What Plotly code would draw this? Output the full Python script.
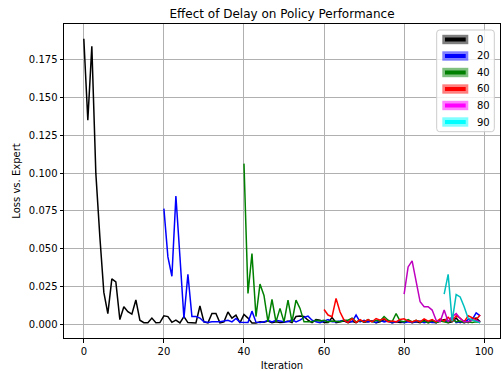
import plotly.graph_objects as go

delays = [0, 20, 40, 60, 80, 90]
line_colors = ["#000000", "#0000ff", "#008000", "#ff0000", "#bf00bf", "#00bfbf"]
legend_colors = ["#000000", "#0000ff", "#008000", "#ff0000", "#ff00ff", "#00ffff"]
halo_colors = ["rgba(0,0,0,0.5)", "rgba(0,0,255,0.5)", "rgba(0,128,0,0.5)",
               "rgba(255,0,0,0.5)", "rgba(255,0,255,0.5)", "rgba(0,255,255,0.5)"]

loss_delay_0 = [
    0.189, 0.135, 0.184, 0.100, 0.058, 0.021, 0.007, 0.030, 0.028, 0.003,
    0.0115, 0.0082, 0.0066, 0.016, 0.0026, 0.0009, 0.0009, 0.004, 0.0009, 0.001,
    0.0055, 0.005, 0.0012, 0.0026, 0.0008, 0.005, 0.001, 0.0008, 0.0008, 0.012,
    0.0015, 0.0008, 0.007, 0.007, 0.0008, 0.0015, 0.008, 0.004, 0.006, 0.0008,
    0.0064, 0.004, 0.0008, 0.0008, 0.0015, 0.0012, 0.002, 0.001, 0.0015, 0.001,
    0.0012, 0.002, 0.001, 0.005, 0.0053, 0.005, 0.0026, 0.001, 0.003, 0.0026,
    0.001, 0.001, 0.0044, 0.001, 0.0015, 0.002, 0.001, 0.0018, 0.001, 0.0025,
    0.0012, 0.0015, 0.002, 0.001, 0.0015, 0.003, 0.002, 0.001, 0.0015, 0.001,
    0.0012, 0.002, 0.001, 0.0015, 0.001, 0.0025, 0.001, 0.0015, 0.001, 0.002,
    0.003, 0.001, 0.0015, 0.004, 0.001, 0.002, 0.001, 0.0035, 0.004, 0.0015,
]
loss_delay_20 = [
    0.0765, 0.0445, 0.0317, 0.0849, 0.045, 0.004, 0.033, 0.005, 0.005, 0.004,
    0.0015, 0.001, 0.0015, 0.0013, 0.0015, 0.002, 0.0026, 0.0015, 0.0037, 0.0013,
    0.0011, 0.0011, 0.0086, 0.0013, 0.0011, 0.0015, 0.0026, 0.0015, 0.0026, 0.002,
    0.0015, 0.0015, 0.003, 0.0015, 0.0026, 0.0044, 0.0053, 0.0026, 0.0015, 0.001,
    0.002, 0.003, 0.0015, 0.0015, 0.002, 0.0026, 0.0015, 0.0015, 0.006, 0.0015,
    0.0025, 0.0015, 0.002, 0.001, 0.0025, 0.0015, 0.002, 0.001, 0.0015, 0.002,
    0.001, 0.0015, 0.001, 0.0015, 0.002, 0.001, 0.0015, 0.001, 0.001, 0.0025,
    0.002, 0.0015, 0.005, 0.001, 0.0015, 0.001, 0.003, 0.003, 0.0075, 0.0055,
]
loss_delay_40 = [
    0.1063, 0.0203, 0.0467, 0.005, 0.0265, 0.019, 0.0015, 0.0163, 0.0015, 0.0104,
    0.0015, 0.0159, 0.0015, 0.0159, 0.0104, 0.0015, 0.0015, 0.0015, 0.0026, 0.002,
    0.0026, 0.0015, 0.002, 0.0015, 0.0015, 0.0026, 0.0026, 0.004, 0.0015, 0.0026,
    0.0015, 0.003, 0.0015, 0.0026, 0.002, 0.005, 0.0026, 0.0015, 0.007, 0.002,
    0.0015, 0.003, 0.0015, 0.0025, 0.0015, 0.002, 0.001, 0.0025, 0.001, 0.002,
    0.0015, 0.001, 0.0035, 0.0015, 0.002, 0.001, 0.0015, 0.001, 0.0015, 0.001,
]
loss_delay_60 = [
    0.0097, 0.006, 0.0049, 0.017, 0.008, 0.0026, 0.001, 0.0037, 0.001, 0.003,
    0.0015, 0.003, 0.0015, 0.0037, 0.0026, 0.0037, 0.0015, 0.002, 0.0015, 0.003,
    0.0035, 0.002, 0.0015, 0.0025, 0.0015, 0.0035, 0.002, 0.003, 0.0015, 0.0035,
    0.002, 0.0045, 0.002, 0.0055, 0.004, 0.0015, 0.0055, 0.0044, 0.003, 0.006,
]
loss_delay_80 = [
    0.0198, 0.0379, 0.0419, 0.028, 0.0148, 0.0115, 0.0115, 0.0093, 0.0026, 0.0015,
    0.0093, 0.0015, 0.0049, 0.007, 0.0037, 0.0015, 0.0015, 0.0026, 0.0026, 0.0015,
]
loss_delay_90 = [
    0.0198, 0.033, 0.002, 0.0196, 0.018, 0.0115, 0.0037, 0.0026, 0.0015, 0.0008,
]
series = [loss_delay_0, loss_delay_20, loss_delay_40, loss_delay_60, loss_delay_80, loss_delay_90]

x_ticks = [0, 20, 40, 60, 80, 100]
y_ticks = [0.0, 0.025, 0.05, 0.075, 0.1, 0.125, 0.15, 0.175]

FONT = "DejaVu Sans"
fig = go.Figure()
for d, vals, col in zip(delays, series, line_colors):
    fig.add_trace(go.Scatter(
        x=list(range(d, d + len(vals))), y=vals, mode="lines", name=str(d),
        line=dict(color=col, width=1.5), showlegend=False))

# plot area in pixels
L, R, T, B = 64, 500, 24, 338
def px(x):
    return (x - L) / (R - L)
def py(y):
    return (B - y) / (B - T)

shapes = []
# legend frame with rounded corners
fx0, fx1, fy0, fy1, rr = 436.7, 494.3, 30, 131.7, 3
path = (f"M {px(fx0+rr)},{py(fy0)} L {px(fx1-rr)},{py(fy0)} Q {px(fx1)},{py(fy0)} {px(fx1)},{py(fy0+rr)} "
        f"L {px(fx1)},{py(fy1-rr)} Q {px(fx1)},{py(fy1)} {px(fx1-rr)},{py(fy1)} "
        f"L {px(fx0+rr)},{py(fy1)} Q {px(fx0)},{py(fy1)} {px(fx0)},{py(fy1-rr)} "
        f"L {px(fx0)},{py(fy0+rr)} Q {px(fx0)},{py(fy0)} {px(fx0+rr)},{py(fy0)} Z")
shapes.append(dict(type="path", xref="paper", yref="paper", path=path,
                   fillcolor="rgba(255,255,255,0.8)", line=dict(color="#cccccc", width=1),
                   layer="above"))
annotations = []
for i, d in enumerate(delays):
    cy = 39.5 + 16.5 * i
    shapes.append(dict(type="rect", xref="paper", yref="paper",
                       x0=px(442.3), x1=px(468.3), y0=py(cy - 4.7), y1=py(cy + 4.7),
                       fillcolor=halo_colors[i], line=dict(width=0), layer="above"))
    shapes.append(dict(type="rect", xref="paper", yref="paper",
                       x0=px(445), x1=px(465.7), y0=py(cy - 2), y1=py(cy + 2),
                       fillcolor=legend_colors[i], line=dict(width=0), layer="above"))
    annotations.append(dict(xref="paper", yref="paper", x=px(474.5), y=py(cy),
                            text=str(d), showarrow=False, xanchor="left", yanchor="middle",
                            font=dict(family=FONT, size=10, color="black")))

fig.update_layout(
    width=501, height=371,
    margin=dict(l=L, r=501 - R, t=T, b=371 - B),
    paper_bgcolor="white", plot_bgcolor="white",
    font=dict(family=FONT, size=10, color="black"),
    title=dict(text="Effect of Delay on Policy Performance", x=(L + R) / 2 / 501,
               xanchor="center", y=1 - 14 / 371, yanchor="middle",
               font=dict(family=FONT, size=12, color="black")),
    shapes=shapes, annotations=annotations,
    xaxis=dict(range=[-4.95, 103.95], tickvals=x_ticks, ticktext=[str(v) for v in x_ticks],
               showgrid=True, gridcolor="#b0b0b0", gridwidth=0.8, zeroline=False,
               showline=True, linecolor="black", linewidth=1, mirror=True,
               ticks="outside", ticklen=3.5, tickwidth=0.8, tickcolor="black",
               title=dict(text="Iteration", standoff=7, font=dict(family=FONT, size=10)),
               automargin=False),
    yaxis=dict(range=[-0.0092, 0.1988], tickvals=y_ticks, ticktext=[f"{v:.3f}" for v in y_ticks],
               showgrid=True, gridcolor="#b0b0b0", gridwidth=0.8, zeroline=False,
               showline=True, linecolor="black", linewidth=1, mirror=True,
               ticks="outside", ticklen=3.5, tickwidth=0.8, tickcolor="black",
               title=dict(text="Loss vs. Expert", standoff=6, font=dict(family=FONT, size=10)),
               automargin=False),
)
fig.write_html("out.html", config={"displayModeBar": False},
               post_script="document.body.style.margin='0px';document.body.style.overflow='hidden';")
